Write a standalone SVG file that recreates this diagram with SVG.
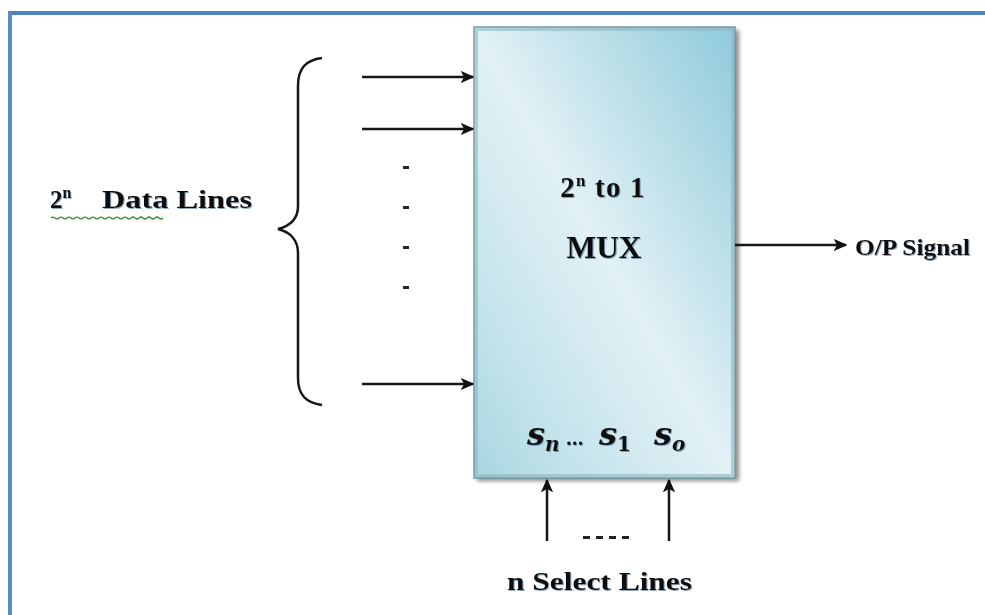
<svg xmlns="http://www.w3.org/2000/svg" width="985" height="615" viewBox="0 0 985 615">
<defs>
<linearGradient id="boxg" x1="1" y1="0" x2="0" y2="1">
<stop offset="0" stop-color="#8ecadb"/>
<stop offset="0.5" stop-color="#e2f1f5"/>
<stop offset="0.8" stop-color="#c3e3eb"/>
<stop offset="1" stop-color="#a8d6e2"/>
</linearGradient>
<filter id="sh" x="-10%" y="-10%" width="130%" height="130%">
<feGaussianBlur stdDeviation="2"/>
</filter>
<filter id="ts" x="-5%" y="-20%" width="110%" height="140%">
<feDropShadow dx="1" dy="1" stdDeviation="0.6" flood-color="#4b6f8a" flood-opacity="0.6"/>
</filter>
<marker id="ah" viewBox="0 0 10 10" refX="9" refY="5" markerWidth="5.5" markerHeight="5.5" orient="auto" markerUnits="strokeWidth">
<path d="M0,0.5 L10,5 L0,9.5 L2.5,5 Z" fill="#111"/>
</marker>
</defs>
<style>
.t{font-family:"Liberation Serif","Times New Roman",serif;font-weight:bold;fill:#111;filter:url(#ts)}
.m{font-family:"DejaVu Serif","Liberation Serif",serif;font-weight:bold;font-style:italic;fill:#111;filter:url(#ts)}
.c{stroke:#161616;stroke-width:2.5;fill:none}
</style>
<rect width="985" height="615" fill="#fff"/>
<g id="frame">
<line x1="8" y1="13" x2="985" y2="13" stroke="#4f81bd" stroke-width="4"/>
<line x1="10" y1="11" x2="10" y2="615" stroke="#5b8cc8" stroke-width="4"/>
</g>
<g id="mux">
<rect x="477" y="30" width="262" height="451" fill="#8a8a8a" filter="url(#sh)"/>
<rect x="474" y="27" width="261" height="451" fill="url(#boxg)" stroke="#6f9aa3" stroke-width="1.5"/>
<rect x="476.5" y="29.5" width="256" height="446" fill="none" stroke="#8fb6bf" stroke-width="3" opacity="0.6"/>
<text class="t" x="603" y="197" font-size="29" text-anchor="middle" letter-spacing="1.2">2<tspan font-size="17" dy="-11">n</tspan><tspan dy="11"> to 1</tspan></text>
<text class="t" x="604" y="258" font-size="31" text-anchor="middle" textLength="75" lengthAdjust="spacingAndGlyphs">MUX</text>
<text class="m" x="527" y="445" font-size="32">s<tspan font-size="20" dy="6">n</tspan><tspan dy="-6" font-size="18" font-style="normal"> …</tspan></text>
<text class="m" x="599" y="445" font-size="32">s<tspan font-size="20" dy="6" font-style="normal">1</tspan></text>
<text class="m" x="654" y="445" font-size="32">s<tspan font-size="20" dy="6">o</tspan></text>
</g>
<g id="data-lines">
<text class="t" x="50" y="208" font-size="25">2<tspan font-size="16" dy="-10">n</tspan><tspan dy="10" x="102" textLength="150" lengthAdjust="spacingAndGlyphs">Data Lines</tspan></text>
<path d="M51,218 q2,-2 4,0 t4,0 t4,0 t4,0 t4,0 t4,0 t4,0 t4,0 t4,0 t4,0 t4,0 t4,0 t4,0 t4,0 t4,0 t4,0 t4,0 t4,0 t4,0 t4,0 t4,0 t4,0 t4,0 t4,0 t4,0 t4,0 t4,0 t4,0" fill="none" stroke="#3f8a3f" stroke-width="1.2"/>
<path class="c" d="M322,58 C306,60 298,68 298,86 L298,206 C298,219 290,226 278,229 C290,232 298,240 298,253 L298,378 C298,395 306,403 322,405" stroke-width="2"/>
<g fill="#222">
<rect x="403" y="166" width="6" height="3"/>
<rect x="403" y="206" width="6" height="3"/>
<rect x="403" y="246" width="6" height="3"/>
<rect x="403" y="286" width="6" height="3"/>
</g>
</g>
<g id="output">
<text class="t" x="855" y="255" font-size="24" textLength="115" lengthAdjust="spacingAndGlyphs">O/P Signal</text>
</g>
<g id="select">
<g fill="#222">
<rect x="583" y="536" width="7" height="3"/>
<rect x="596" y="536" width="7" height="3"/>
<rect x="609" y="536" width="7" height="3"/>
<rect x="622" y="536" width="7" height="3"/>
</g>
<text class="t" x="507" y="590" font-size="25" textLength="185" lengthAdjust="spacingAndGlyphs">n Select Lines</text>
</g>
<g id="connectors">
<line class="c" x1="362" y1="77" x2="473" y2="77" marker-end="url(#ah)"/>
<line class="c" x1="362" y1="129" x2="473" y2="129" marker-end="url(#ah)"/>
<line class="c" x1="362" y1="384" x2="473" y2="384" marker-end="url(#ah)"/>
<line class="c" x1="735" y1="245" x2="846" y2="245" marker-end="url(#ah)"/>
<line class="c" x1="547" y1="541" x2="547" y2="480" marker-end="url(#ah)"/>
<line class="c" x1="669" y1="541" x2="669" y2="480" marker-end="url(#ah)"/>
</g>
</svg>
